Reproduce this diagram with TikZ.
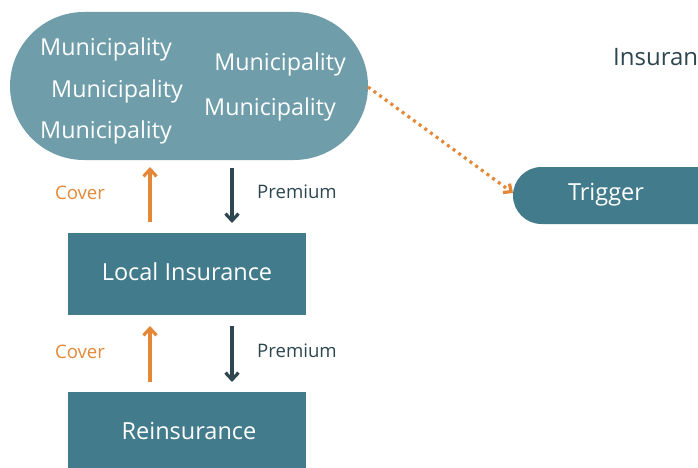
\documentclass[tikz,border=0pt]{standalone}
\usepackage{fontspec}
\setmainfont{Open Sans}
\usetikzlibrary{arrows.meta}
\definecolor{muni}{RGB}{111,158,170}
\definecolor{teal}{RGB}{66,123,139}
\definecolor{orng}{RGB}{228,135,55}
\definecolor{dark}{RGB}{45,70,79}
\tikzset{
  mtext/.style={text=white,font=\fontsize{23.3}{26}\selectfont,inner sep=0pt},
  boxtext/.style={text=white,font=\fontsize{23.5}{26}\selectfont},
  lbl/.style={font=\fontsize{18.6}{21}\selectfont,inner sep=0pt},
  coverarrow/.style={draw=orng,line width=3.2pt,-{Straight Barb[length=7pt,width=13pt]}},
  premarrow/.style={draw=dark,line width=3.2pt,-{Straight Barb[length=7pt,width=13pt]}},
}
\begin{document}
\begin{tikzpicture}[x=1pt,y=-1pt]
\useasboundingbox (0,0) rectangle (698,468);
% Municipality stadium
\node[fill=muni,rounded corners=74pt,minimum width=358pt,minimum height=148pt,inner sep=0pt] (muni) at (189,86) {};
\node[mtext] (m1) at (106,49) {Municipality};
\node[mtext] (m2) at (280,64) {Municipality};
\node[mtext] (m3) at (117,91) {Municipality};
\node[mtext] (m4) at (270,109) {Municipality};
\node[mtext] (m5) at (106,132) {Municipality};
% Trigger
\node[fill=teal,rounded corners=28.5pt,minimum width=230pt,minimum height=57pt,inner sep=0pt] (trigbg) at (628,195.5) {};
\node[boxtext] (trig) at (606,195) {Trigger};
\coordinate (tin) at (513,193);
% Local Insurance
\node[fill=teal,minimum width=238pt,minimum height=82pt,inner sep=0pt] (local) at (187,274) {};
\node[boxtext] (localt) at (187,272) {Local Insurance};
% Reinsurance
\node[fill=teal,minimum width=238pt,minimum height=90pt,inner sep=0pt] (rein) at (187,437) {};
\node[boxtext] (reint) at (189,431) {Reinsurance};
% Insurance header
\node[anchor=west,text=dark,inner sep=0pt,font=\fontsize{24}{26}\selectfont] (ins) at (613,57) {Insuran};
% arrows
\coordinate (c1a) at (150,222); \coordinate (c1b) at (150,167);
\coordinate (p1a) at (232,168); \coordinate (p1b) at (232,223);
\coordinate (c2a) at (150,382); \coordinate (c2b) at (150,326);
\coordinate (p2a) at (232,326); \coordinate (p2b) at (232,382);
\draw[coverarrow] (c1a) -- (c1b);
\draw[premarrow] (p1a) -- (p1b);
\draw[coverarrow] (c2a) -- (c2b);
\draw[premarrow] (p2a) -- (p2b);
\node[lbl,text=orng] (cov1) at (80,193) {Cover};
\node[lbl,text=dark] (prem1) at (297,192) {Premium};
\node[lbl,text=orng] (cov2) at (80,352) {Cover};
\node[lbl,text=dark] (prem2) at (297,351) {Premium};
% dotted link
\coordinate (mout) at (368,87);
\draw[orng,line width=3.2pt,dash pattern=on 3pt off 4pt,-{Straight Barb[length=6pt,width=11pt]}] (mout) -- (tin);
\end{tikzpicture}
\end{document}
